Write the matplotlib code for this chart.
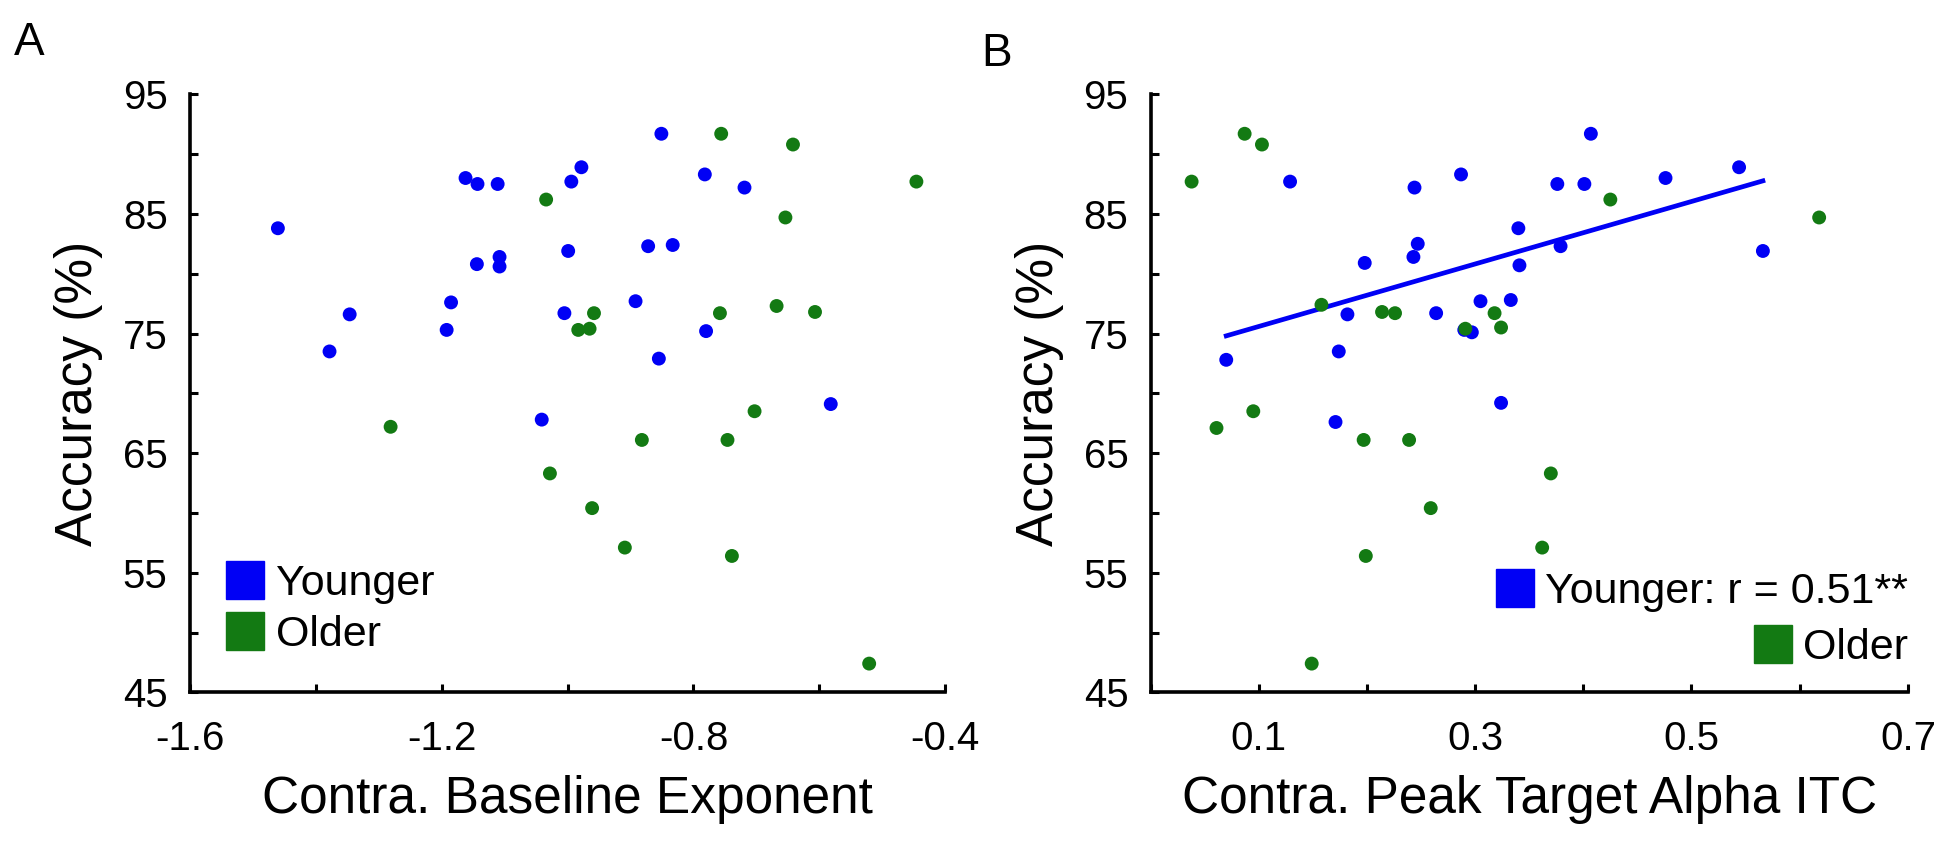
import numpy as np
import matplotlib
matplotlib.use("Agg")
import matplotlib.pyplot as plt
from matplotlib.lines import Line2D

plt.rcParams["font.family"] = ["Liberation Sans", "DejaVu Sans"]

# ---- Panel A: baseline exponent vs accuracy ----
a_young_x = [-1.46, -0.851, -1.162, -1.143, -1.111, -0.978, -0.994, -0.782, -0.719,
             -0.999, -0.872, -0.833, -1.144, -1.108, -1.108, -1.346, -1.185, -1.192,
             -1.005, -0.892, -0.780, -1.378, -0.855, -0.582, -1.041]
a_young_y = [83.8, 91.7, 88.0, 87.5, 87.5, 88.9, 87.7, 88.3, 87.2,
             81.9, 82.3, 82.4, 80.8, 81.4, 80.6, 76.6, 77.6, 75.3,
             76.7, 77.7, 75.2, 73.5, 72.9, 69.1, 67.8]
a_old_x = [-0.756, -0.642, -0.446, -1.034, -0.654, -0.958, -0.983, -0.965, -0.758, -0.668,
           -0.607, -0.703, -1.281, -0.882, -0.746, -1.028, -0.961, -0.909, -0.739, -0.521]
a_old_y = [91.7, 90.8, 87.7, 86.2, 84.7, 76.7, 75.3, 75.4, 76.7, 77.3,
           76.8, 68.5, 67.2, 66.1, 66.1, 63.3, 60.4, 57.1, 56.4, 47.4]

# ---- Panel B: peak target alpha ITC vs accuracy ----
b_young_x = [0.407, 0.544, 0.287, 0.476, 0.129, 0.244, 0.376, 0.401, 0.340, 0.379,
             0.566, 0.247, 0.243, 0.198, 0.341, 0.305, 0.333, 0.182, 0.264, 0.297,
             0.290, 0.174, 0.070, 0.324, 0.171]
b_young_y = [91.7, 88.9, 88.3, 88.0, 87.7, 87.2, 87.5, 87.5, 83.8, 82.3,
             81.9, 82.5, 81.4, 80.9, 80.7, 77.7, 77.8, 76.6, 76.7, 75.1,
             75.3, 73.5, 72.8, 69.2, 67.6]
b_old_x = [0.087, 0.103, 0.038, 0.425, 0.618, 0.158, 0.214, 0.226, 0.318, 0.291,
           0.324, 0.095, 0.061, 0.197, 0.239, 0.370, 0.259, 0.362, 0.199, 0.149]
b_old_y = [91.7, 90.8, 87.7, 86.2, 84.7, 77.4, 76.8, 76.7, 76.7, 75.4,
           75.5, 68.5, 67.1, 66.1, 66.1, 63.3, 60.4, 57.1, 56.4, 47.4]

young_color = "#0000f5"
old_color = "#137a13"

fig = plt.figure(figsize=(19.5, 8.48), dpi=100)
ax_a = fig.add_axes([0.0973, 0.1836, 0.3875, 0.7052])
ax_b = fig.add_axes([0.590, 0.1836, 0.3884, 0.7052])


def style_axes(ax, xmaj, xmin, xlim):
    ax.set_xlim(xlim)
    ax.set_ylim(45, 95)
    ax.set_xticks(xmaj)
    ax.set_xticks(xmin, minor=True)
    ax.set_yticks([45, 55, 65, 75, 85, 95])
    ax.set_yticks([50, 60, 70, 80, 90], minor=True)
    for s in ["top", "right"]:
        ax.spines[s].set_visible(False)
    for s in ["left", "bottom"]:
        ax.spines[s].set_linewidth(2.6)
    ax.tick_params(which="both", direction="in", length=6, width=2.2)
    ax.tick_params(axis="x", which="major", labelsize=29, pad=20)
    ax.tick_params(axis="y", which="major", labelsize=29, pad=16)
    ax.set_ylabel("Accuracy (%)", fontsize=37, labelpad=14)


def square(c):
    return Line2D([0], [0], marker="s", linestyle="none", markersize=27,
                  markerfacecolor=c, markeredgecolor=c)


# ---- A ----
ax_a.scatter(a_young_x, a_young_y, s=100, c=young_color, edgecolors="none", zorder=3)
ax_a.scatter(a_old_x, a_old_y, s=100, c=old_color, edgecolors="none", zorder=3)
style_axes(ax_a, [-1.6, -1.2, -0.8, -0.4], [-1.4, -1.0, -0.6], (-1.6, -0.4))
ax_a.set_xticklabels(["-1.6", "-1.2", "-0.8", "-0.4"])
ax_a.set_xlabel("Contra. Baseline Exponent", fontsize=37, labelpad=12)
ax_a.legend([square(young_color), square(old_color)], ["Younger", "Older"],
            loc="lower left", bbox_to_anchor=(0.048, 0.062), frameon=False,
            fontsize=31, borderpad=0, handlelength=0.9, handletextpad=0.25,
            labelspacing=0.25, borderaxespad=0)

# ---- B ----
ax_b.scatter(b_young_x, b_young_y, s=100, c=young_color, edgecolors="none", zorder=3)
ax_b.scatter(b_old_x, b_old_y, s=100, c=old_color, edgecolors="none", zorder=3)
k, b0 = np.polyfit(b_young_x, b_young_y, 1)
xs = np.array([min(b_young_x), max(b_young_x)])
ax_b.plot(xs, k * xs + b0, color=young_color, lw=3.4, zorder=2)
style_axes(ax_b, [0.1, 0.3, 0.5, 0.7], [0.0, 0.2, 0.4, 0.6], (0, 0.7))
ax_b.set_xlabel("Contra. Peak Target Alpha ITC", fontsize=37, labelpad=12)

leg1 = ax_b.legend([square(young_color)], ["Younger: r = 0.51**"], loc="lower right",
                   bbox_to_anchor=(1.0, 0.134), frameon=False, fontsize=31,
                   borderpad=0, handlelength=0.9, handletextpad=0.25, borderaxespad=0)
ax_b.add_artist(leg1)
ax_b.legend([square(old_color)], ["Older"], loc="lower right",
            bbox_to_anchor=(1.0, 0.041), frameon=False, fontsize=31,
            borderpad=0, handlelength=0.9, handletextpad=0.25, borderaxespad=0)

# panel letters
fig.text(0.007, 1 - 55 / 848, "A", fontsize=33, va="baseline")
fig.text(0.503, 1 - 66 / 848, "B", fontsize=33, va="baseline")

fig.savefig("out.png", dpi=100)
